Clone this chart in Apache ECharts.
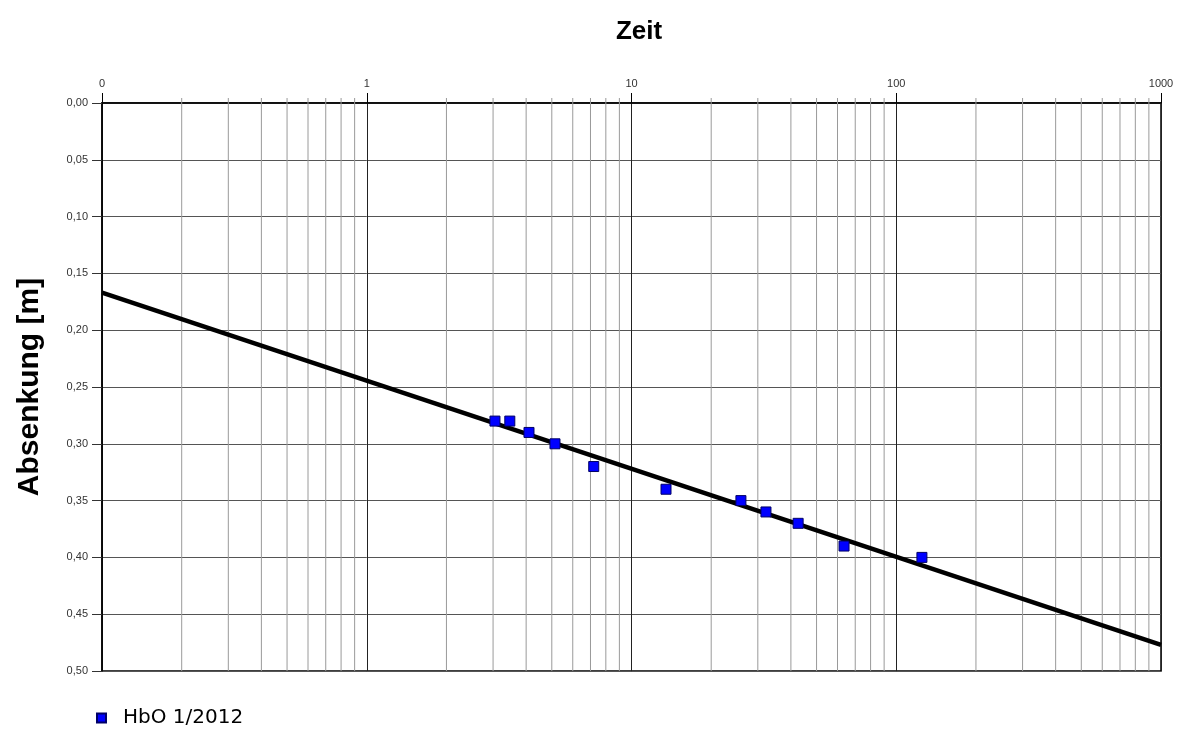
<!DOCTYPE html>
<html>
<head>
<meta charset="utf-8">
<script src="https://cdn.jsdelivr.net/npm/echarts@6/dist/echarts.min.js"></script>
<style>html,body{margin:0;padding:0;background:#fff;}#c{width:1180px;height:731px;}</style>
</head>
<body>
<div id="c"></div>
<script>
// Data
const seriesName = 'HbO 1/2012';
const timeValues = [3.05, 3.47, 4.1, 5.14, 7.2, 13.5, 25.9, 32.2, 42.6, 63.5, 125];
const drawdownValues = [0.28, 0.28, 0.29, 0.30, 0.32, 0.34, 0.35, 0.36, 0.37, 0.39, 0.40];
const fitTimes = [0.1, 1000];
const fitDrawdowns = [0.167, 0.477];
const minorGridTimes = [0.2,0.3,0.4,0.5,0.6,0.7,0.8,0.9,2,3,4,5,6,7,8,9,20,30,40,50,60,70,80,90,200,300,400,500,600,700,800,900];
const xTitle = 'Zeit';
const yTitle = 'Absenkung [m]';

const narrow = "'Liberation Sans Narrow', 'Arial Narrow', 'Liberation Sans', sans-serif";
const chart = echarts.init(document.getElementById('c'));
chart.setOption({
  animation: false,
  backgroundColor: '#fff',
  title: {
    text: xTitle, left: 634, top: 14, textAlign: 'center',
    textStyle: {fontFamily: narrow, fontSize: 26, fontWeight: 'bold', color: '#000'}
  },
  legend: {
    data: [seriesName], left: 91, top: 703, icon: 'rect', itemWidth: 9, itemHeight: 9,
    itemStyle: {opacity: 1},
    textStyle: {fontFamily: 'DejaVu Sans', fontSize: 20, color: '#000', padding: [0,0,0,12]}
  },
  grid: {left: 102, top: 103, right: 19, bottom: 60, show: true, borderColor: '#000', borderWidth: 1.5},
  xAxis: {
    type: 'log', logBase: 10, min: 0.1, max: 1000, position: 'top',
    axisLine: {show: true, lineStyle: {color: '#000', width: 1.5}},
    axisTick: {show: true, length: 10, inside: false, lineStyle: {color: '#000'}},
    axisLabel: {margin: 14, fontFamily: narrow, fontSize: 11, color: '#333',
      formatter: v => (v < 1 ? '0' : String(Math.round(v)))},
    splitLine: {show: true, lineStyle: {color: '#222', width: 1}}
  },
  yAxis: {
    type: 'value', min: 0, max: 0.5, interval: 0.05, inverse: true,
    name: yTitle, nameLocation: 'middle', nameGap: 57, nameRotate: 90, nameMoveOverlap: false,
    nameTextStyle: {fontFamily: narrow, fontSize: 30, fontWeight: 'bold', color: '#000'},
    axisLine: {show: true, lineStyle: {color: '#000', width: 1.5}},
    axisTick: {show: true, length: 10, lineStyle: {color: '#333'}},
    axisLabel: {margin: 14, fontFamily: narrow, fontSize: 11, color: '#333',
      formatter: v => v.toFixed(2).replace('.', ',')},
    splitLine: {show: true, lineStyle: {color: '#555', width: 1}}
  },
  series: [
    {
      type: 'custom', name: 'minor', silent: true, z: 1,
      data: minorGridTimes.map(t => [t, 0]),
      encode: {x: 0, y: 1},
      renderItem: function (params, api) {
        const t = api.value(0);
        const top = api.coord([t, 0]);
        const bot = api.coord([t, 0.5]);
        return {type: 'line', shape: {x1: top[0], y1: top[1] - 5, x2: bot[0], y2: bot[1]},
          style: {stroke: '#9a9a9a', lineWidth: 1}};
      }
    },
    {
      type: 'line', name: 'fit', z: 3, symbol: 'none',
      data: fitTimes.map((t, i) => [t, fitDrawdowns[i]]),
      lineStyle: {color: '#000', width: 4.5}
    },
    {
      type: 'scatter', name: seriesName, z: 5, symbol: 'rect', symbolSize: 10,
      data: timeValues.map((t, i) => [t, drawdownValues[i]]),
      itemStyle: {color: '#0000ff', borderColor: '#000066', borderWidth: 1, opacity: 1}
    }
  ]
});
</script>
</body>
</html>
